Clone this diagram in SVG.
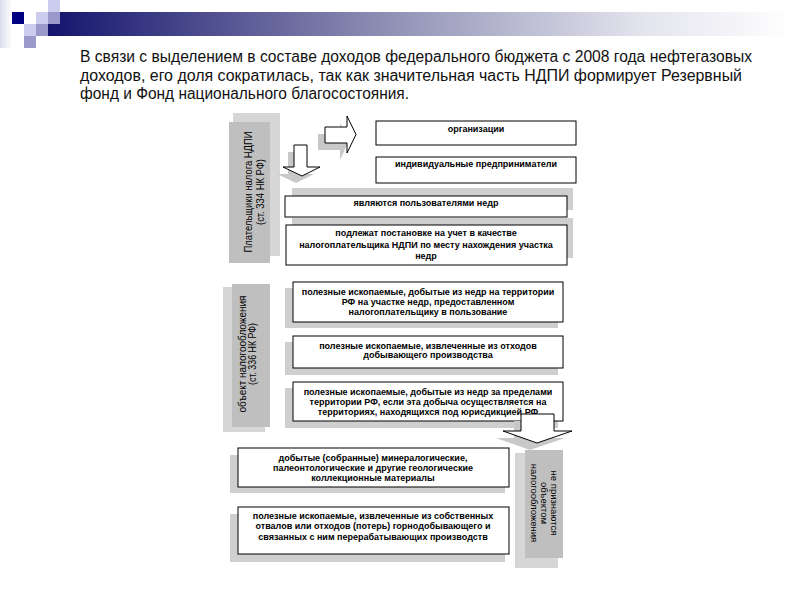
<svg xmlns="http://www.w3.org/2000/svg" width="800" height="600" viewBox="0 0 800 600">
<defs>
<linearGradient id="bar" x1="0" y1="0" x2="1" y2="0">
<stop offset="0" stop-color="#14146e"/>
<stop offset="0.45" stop-color="#8e8eb4"/>
<stop offset="0.8" stop-color="#e4e4ee"/>
<stop offset="1" stop-color="#ffffff"/>
</linearGradient>
<linearGradient id="fade" x1="0" y1="0" x2="1" y2="0">
<stop offset="0" stop-color="#dcdcee"/>
<stop offset="1" stop-color="#ffffff"/>
</linearGradient>
<style>
.box{fill:#fff;stroke:#000;stroke-width:1}
.sh{fill:#cfcfcf}
.col{fill:#bfbfbf}
.colsh{fill:#d6d6d6}
.arr{fill:#fff;stroke:#000;stroke-width:1}
.ash{fill:#c8c8c8}
.t{font-family:"Liberation Sans",Arial,sans-serif;font-size:9px;font-weight:bold;fill:#000;text-anchor:middle}
.v{font-family:"Liberation Sans",Arial,sans-serif;font-size:11px;fill:#000;text-anchor:middle}
.title{font-family:"Liberation Sans",Arial,sans-serif;font-size:16px;fill:#111}
</style>
</defs>
<rect width="800" height="600" fill="#fff"/>

<g id="header">
<rect x="0" y="0" width="12" height="48" fill="url(#fade)"/>
<rect x="48" y="12" width="745" height="24" fill="url(#bar)"/>
<rect x="12" y="12" width="12" height="12" fill="#000080"/>
<rect x="48" y="0" width="12" height="12" fill="#ccccee"/>
<rect x="36" y="12" width="12" height="12" fill="#ccccee"/>
<rect x="48" y="12" width="12" height="12" fill="#9999cc"/>
<rect x="24" y="24" width="12" height="12" fill="#ccccee"/>
<rect x="36" y="24" width="12" height="12" fill="#9999cc"/>
<rect x="24" y="36" width="12" height="12" fill="#9999cc"/>
</g>

<g id="title">
<text class="title" x="80" y="62" textLength="672" lengthAdjust="spacingAndGlyphs">В связи с выделением в составе доходов федерального бюджета с 2008 года нефтегазовых</text>
<text class="title" x="80" y="81" textLength="662" lengthAdjust="spacingAndGlyphs">доходов, его доля сократилась, так как  значительная часть НДПИ формирует Резервный</text>
<text class="title" x="80" y="99" textLength="329" lengthAdjust="spacingAndGlyphs">фонд и Фонд  национального благосостояния.</text>
</g>

<g id="payers">
<rect class="colsh" x="233" y="113" width="47" height="143"/>
<rect class="col" x="229" y="122" width="41" height="141"/>
<text class="v" transform="translate(252,192) rotate(-90)" textLength="121" lengthAdjust="spacingAndGlyphs">Плательщики налога НДПИ</text>
<text class="v" transform="translate(264,192) rotate(-90)" textLength="66" lengthAdjust="spacingAndGlyphs">(ст. 334 НК РФ)</text>
</g>

<g id="org">
<rect class="box" x="376" y="121" width="200" height="24"/>
<text class="t" x="476" y="132">организации</text>
</g>
<g id="ip">
<rect class="box" x="376" y="157" width="200" height="26"/>
<text class="t" x="476" y="167">индивидуальные предприниматели</text>
</g>
<g id="users">
<rect class="sh" x="292" y="188" width="281" height="22"/>
<rect class="box" x="285" y="196" width="282" height="21"/>
<text class="t" x="426" y="206">являются пользователями недр</text>
</g>
<g id="register">
<rect class="sh" x="292" y="218" width="281" height="40"/>
<rect class="box" x="286" y="225" width="281" height="40"/>
<text class="t" x="426" y="236">подлежат постановке на учет в качестве</text>
<text class="t" x="426" y="248">налогоплательщика  НДПИ по месту нахождения участка</text>
<text class="t" x="426" y="259">недр</text>
</g>

<g id="object">
<rect class="colsh" x="223" y="287" width="42" height="145"/>
<rect class="col" x="232" y="284" width="38" height="143"/>
<text class="v" style="font-size:10.5px" transform="translate(246,354) rotate(-90)" textLength="117" lengthAdjust="spacingAndGlyphs">объект налогообложения</text>
<text class="v" style="font-size:10.5px" transform="translate(256,354) rotate(-90)" textLength="62" lengthAdjust="spacingAndGlyphs">(ст. 336 НК РФ)</text>
</g>
<g id="objA">
<rect class="sh" x="285" y="288" width="273" height="40"/>
<rect class="box" x="293" y="282" width="270" height="40"/>
<text class="t" x="428" y="295">полезные ископаемые, добытые из недр на территории</text>
<text class="t" x="428" y="305">РФ на участке недр, предоставленном</text>
<text class="t" x="428" y="315">налогоплательщику в пользование</text>
</g>
<g id="objB">
<rect class="sh" x="285" y="342" width="273" height="33"/>
<rect class="box" x="293" y="336" width="270" height="32"/>
<text class="t" x="428" y="349">полезные ископаемые, извлеченные из отходов</text>
<text class="t" x="428" y="358">добывающего производства</text>
</g>
<g id="objC">
<rect class="sh" x="285" y="388" width="273" height="40"/>
<rect class="box" x="293" y="382" width="270" height="39"/>
<text class="t" x="428" y="395">полезные ископаемые, добытые из недр за пределами</text>
<text class="t" x="428" y="405">территории РФ, если эта добыча осуществляется на</text>
<text class="t" x="428" y="415">территориях, находящихся под юрисдикцией РФ</text>
</g>

<g id="notobject">
<rect class="colsh" x="515" y="453" width="43" height="115"/>
<rect class="col" x="525" y="450" width="38" height="108"/>
<text class="v" style="font-size:9.5px" transform="translate(551,503) rotate(90)">не признаются</text>
<text class="v" style="font-size:9.5px" transform="translate(541,503) rotate(90)">объектом</text>
<text class="v" style="font-size:9.5px" transform="translate(531,503) rotate(90)">налогообложения</text>
</g>
<g id="exD">
<rect class="sh" x="230" y="455" width="275" height="38"/>
<rect class="box" x="238" y="448" width="271" height="39"/>
<text class="t" x="373" y="461">добытые (собранные) минералогические,</text>
<text class="t" x="373" y="471">палеонтологические и другие геологические</text>
<text class="t" x="373" y="481">коллекционные материалы</text>
</g>
<g id="exE">
<rect class="sh" x="230" y="514" width="275" height="48"/>
<rect class="box" x="238" y="507" width="271" height="47"/>
<text class="t" x="373" y="519">полезные ископаемые, извлеченные из собственных</text>
<text class="t" x="373" y="529">отвалов или отходов (потерь) горнодобывающего и</text>
<text class="t" x="373" y="540">связанных с ним перерабатывающих производств</text>
</g>

<g id="connectors">
<path class="ash" d="M318,134 H340 V123 L349,141 L340,160 V150 H318 Z"/>
<path class="arr" d="M325,127 H347 V116 L356,134.5 L347,153 V143 H325 Z"/>
<path class="ash" d="M288,152 H301 V174 H314 L296,183 L277,174 H288 Z"/>
<path class="arr" d="M294,145 H307 V167 H320 L302,176 L283,167 H294 Z"/>
<path class="ash" d="M514,421 H547 V438 H565 L530,450 L496,438 H514 Z"/>
<path class="arr" d="M521,414 H554 V431 H572 L537,443 L503,431 H521 Z"/>
</g>
</svg>
